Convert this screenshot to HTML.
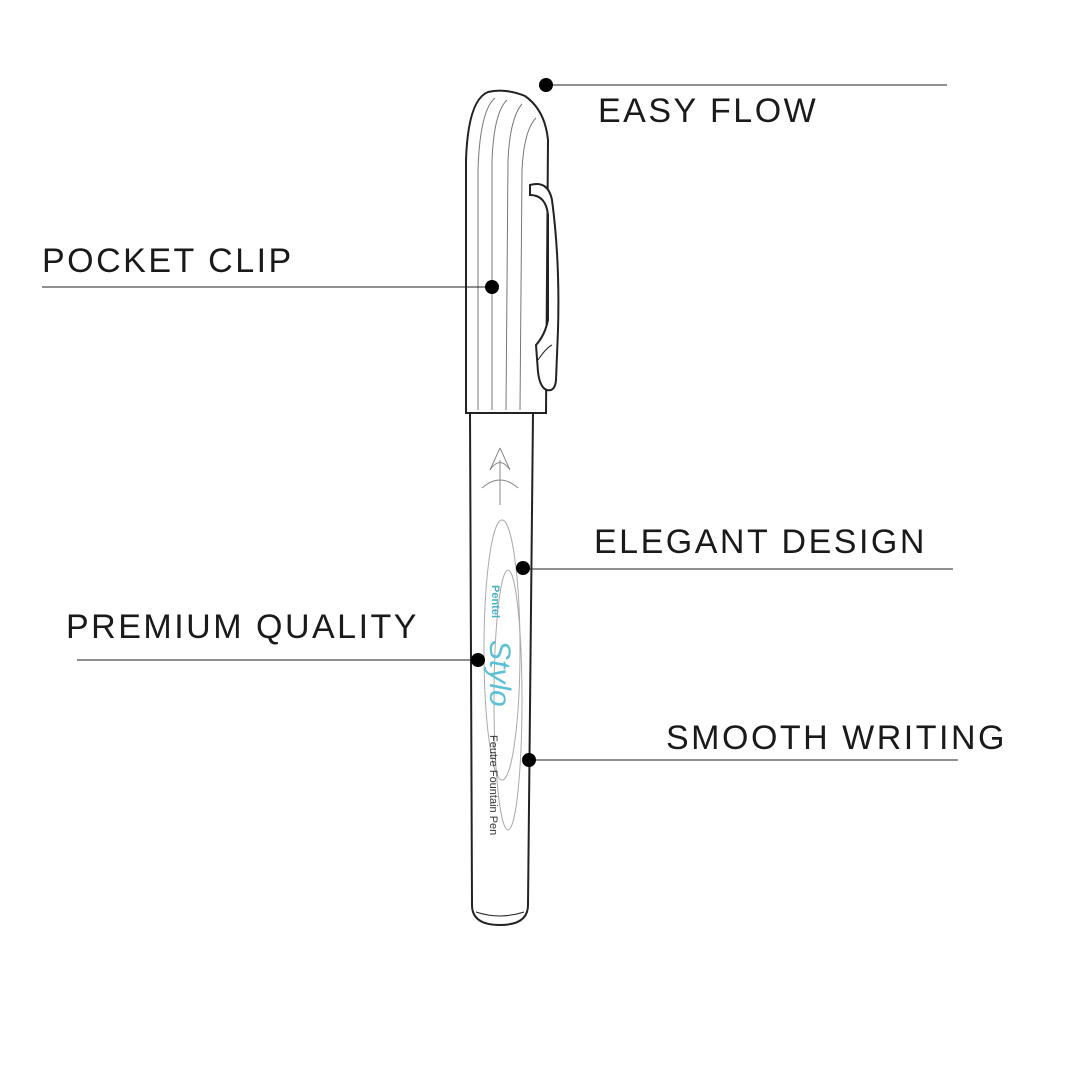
<!DOCTYPE html>
<html><head><meta charset="utf-8"><style>
html,body{margin:0;padding:0;background:#fff;}
svg{display:block}
text{font-family:"Liberation Sans",sans-serif;font-size:34px;fill:#1a1a1a;letter-spacing:2.5px}
</style></head><body>
<svg width="1080" height="1080" viewBox="0 0 1080 1080" xmlns="http://www.w3.org/2000/svg">
<rect width="1080" height="1080" fill="#fff"/>
<g fill="none" stroke="#222" stroke-width="2">
<path d="M466,413 L466,160 Q468,100 488,92 Q505,88 525,96 Q545,110 548,140 L546,413 Z" fill="#fff"/>
<path d="M478,410 L478,170 Q480,110 495,98" stroke-width="1" stroke="#777"/>
<path d="M492,410 L492,160 Q494,112 507,100" stroke-width="1" stroke="#777"/>
<path d="M506,410 L508,160 Q510,118 522,104" stroke-width="1" stroke="#777"/>
<path d="M520,410 L522,170 Q524,130 536,118" stroke-width="1" stroke="#777"/>
<path d="M530,185 Q548,180 552,200 Q560,260 558,330 L556,380 Q555,392 547,390 Q540,388 538,372 L536,345 Q545,335 548,320 L548,215 Q546,195 530,195 Z" fill="#fff"/>
<path d="M538,360 Q546,348 552,345" stroke-width="1"/>
<path d="M470,413 L472,905 Q472,925 500,925 Q528,925 528,905 L533,413 Z" fill="#fff"/>
<path d="M476,912 Q500,920 524,912" stroke-width="1"/>
<path d="M500,448 L490,470 M500,448 L510,470 M490,470 Q500,455 510,470 M500,460 L500,505 M482,488 Q500,472 518,488" stroke-width="1" stroke="#888"/>
<ellipse cx="502" cy="650" rx="18" ry="130" stroke-width="1" stroke="#aaa"/>
<ellipse cx="508" cy="700" rx="14" ry="130" stroke-width="1" stroke="#aaa"/>
</g>
<text x="0" y="0" transform="translate(492,585) rotate(90)" style="font-size:11px;fill:#4ab0c8;font-weight:bold;letter-spacing:0">Pentel</text>
<text x="0" y="0" transform="translate(490,640) rotate(90)" style="font-size:30px;fill:#5cc0d8;font-style:italic;letter-spacing:0">Stylo</text>
<text x="0" y="0" transform="translate(490,735) rotate(90)" style="font-size:11px;fill:#333;letter-spacing:0">Feutre Fountain Pen</text>
<g stroke="#222" stroke-width="1">
<line x1="546" y1="85" x2="947" y2="85"/>
<line x1="42" y1="287" x2="492" y2="287"/>
<line x1="523" y1="569" x2="953" y2="569"/>
<line x1="77" y1="660" x2="478" y2="660"/>
<line x1="529" y1="760" x2="958" y2="760"/>
</g>
<g fill="#000">
<circle cx="546" cy="85" r="7"/>
<circle cx="492" cy="287" r="7"/>
<circle cx="523" cy="568" r="7"/>
<circle cx="478" cy="660" r="7"/>
<circle cx="529" cy="760" r="7"/>
</g>
<text x="598" y="122">EASY FLOW</text>
<text x="42" y="272">POCKET CLIP</text>
<text x="594" y="553">ELEGANT DESIGN</text>
<text x="66" y="638">PREMIUM QUALITY</text>
<text x="666" y="749">SMOOTH WRITING</text>
</svg>
</body></html>
